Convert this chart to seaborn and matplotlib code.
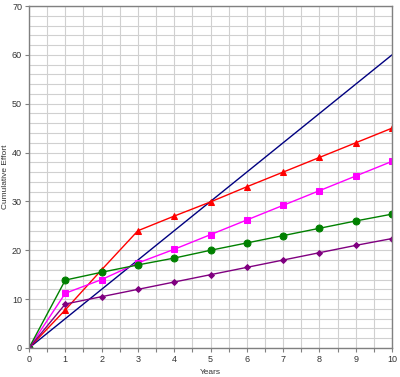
import pandas as pd
import numpy as np
import seaborn as sns
import matplotlib.pyplot as plt
from matplotlib.ticker import MultipleLocator

years = [0, 1, 2, 3, 4, 5, 6, 7, 8, 9, 10]
linear = [0, 6, 12, 18, 24, 30, 36, 42, 48, 54, 60]
red_tri = [0, 7.8, 16, 24, 27, 29.9, 33, 36, 39, 42, 45]
pink_sq = [0, 11.2, 14, 17.4, 20.2, 23.2, 26.2, 29.2, 32.2, 35.2, 38.2]
green_dot = [0, 13.9, 15.5, 17, 18.4, 20, 21.5, 23, 24.5, 26, 27.4]
purple_dia = [0, 9, 10.5, 12, 13.5, 15, 16.5, 18, 19.5, 21, 22.4]

sns.set_style('white')
plt.rcParams['font.family'] = ['Liberation Sans', 'DejaVu Sans']

fig, ax = plt.subplots(figsize=(4.0, 3.77), dpi=100)
fig.subplots_adjust(left=0.0725, right=0.98, top=0.984, bottom=0.077)

# series: values, colour, marker, marker size
series = [
    (linear, '#000080', None, 0),
    (red_tri, '#ff0000', '^', 4),
    (pink_sq, '#ff00ff', 's', 4.5),
    (green_dot, '#008000', 'o', 5),
    (purple_dia, '#800080', 'D', 3),
]
for vals, col, mk, ms in series:
    sns.lineplot(x=years, y=vals, ax=ax, color=col, marker=mk, markersize=ms,
                 markeredgecolor=col, linewidth=1.0)

ax.set_xlim(0, 10)
ax.set_ylim(0, 70)
ax.xaxis.set_major_locator(MultipleLocator(1))
ax.xaxis.set_minor_locator(MultipleLocator(0.5))
ax.yaxis.set_major_locator(MultipleLocator(10))
ax.yaxis.set_minor_locator(MultipleLocator(2))
ax.grid(True, which='both', color='#d0d0d0', linewidth=0.8)
ax.set_axisbelow(True)

for s in ax.spines.values():
    s.set_color('#808080')
    s.set_linewidth(1.0)

ax.tick_params(axis='both', which='major', labelsize=6.5, colors='#808080',
               labelcolor='#333333', length=3, width=0.8, direction='out',
               bottom=True, left=True, pad=2)
ax.tick_params(axis='x', which='minor', length=3, width=0.8, colors='#808080', bottom=True)
ax.tick_params(axis='y', which='minor', length=0)

ax.set_xlabel('Years', fontsize=6, color='#333333', labelpad=4)
ax.set_ylabel('Cumulative Effort', fontsize=6, color='#333333', labelpad=2)

plt.savefig('out.png', dpi=100)
plt.close()
